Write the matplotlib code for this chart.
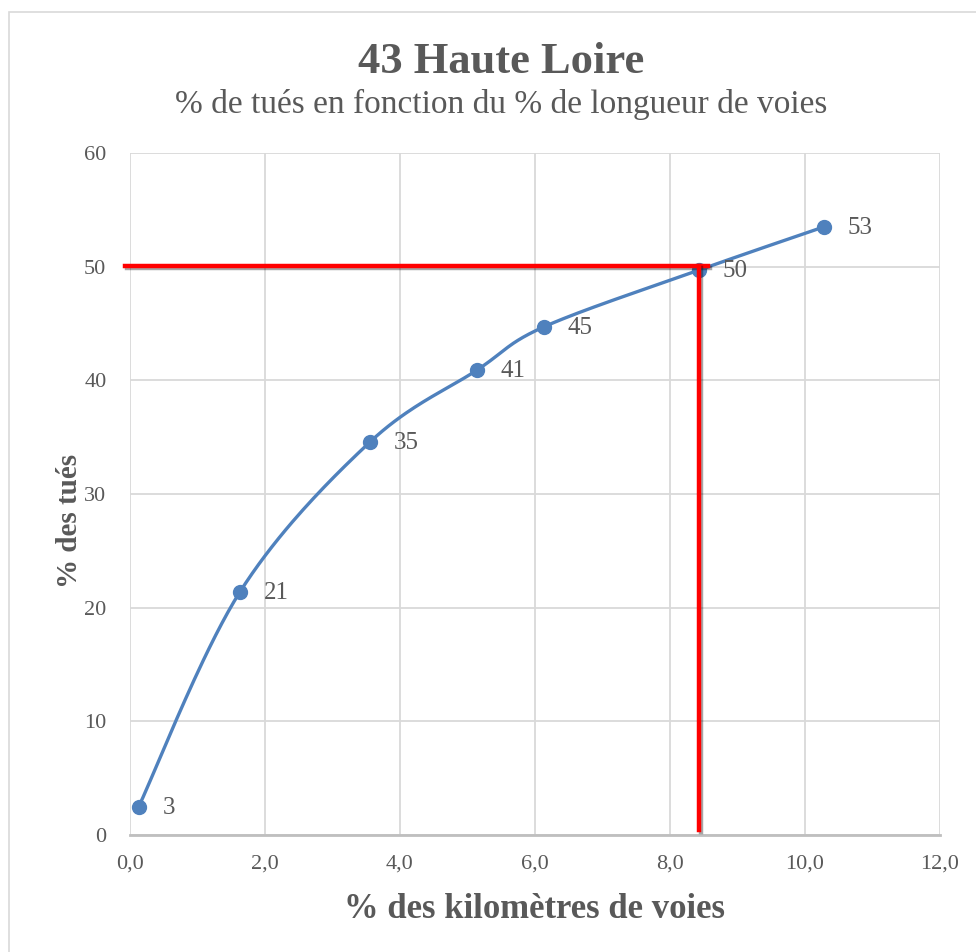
import numpy as np
import matplotlib
matplotlib.use("Agg")
import matplotlib.pyplot as plt
import matplotlib.patheffects as pe
from matplotlib.patches import Rectangle
from matplotlib.ticker import FuncFormatter, MultipleLocator

# données
pct_km = [0.13, 1.63, 3.56, 5.14, 6.13, 8.43, 10.28]
pct_tues = [2.5, 21.4, 34.6, 40.9, 44.7, 49.7, 53.5]
labels = ["3", "21", "35", "41", "45", "50", "53"]

# lignes rouges de repère
repere_x = 8.43
repere_y = 50.1

BLEU = "#4F81BD"
GRIS = "#595959"
plt.rcParams['font.family'] = ['Liberation Serif', 'DejaVu Serif']


def lissage(xs, ys, n=40):
    """Courbe lissée façon Excel (Bézier / Catmull-Rom)"""
    pts = np.column_stack([xs, ys])
    pts = np.vstack([pts[0], pts, pts[-1]])
    out = []
    t = np.linspace(0, 1, n)[:, None]
    for i in range(1, len(pts) - 2):
        p0, p3 = pts[i], pts[i + 1]
        p1 = p0 + (pts[i + 1] - pts[i - 1]) / 6
        p2 = p3 - (pts[i + 2] - pts[i]) / 6
        seg = ((1 - t) ** 3) * p0 + 3 * ((1 - t) ** 2) * t * p1 + 3 * (1 - t) * t ** 2 * p2 + t ** 3 * p3
        out.append(seg)
    c = np.vstack(out)
    return c[:, 0], c[:, 1]


fig = plt.figure(figsize=(9.76, 9.52), dpi=100)
ax = fig.add_axes([130 / 976, 1 - 835 / 952, 810 / 976, 682 / 952])

# cadre extérieur
fig.patches.append(Rectangle((9 / 976, -0.1), 1.2, 1 - 12 / 952 + 0.1, transform=fig.transFigure,
                             fill=False, edgecolor="#D9D9D9", lw=1.2))

ax.set_xlim(0, 12)
ax.set_ylim(0, 60)
ax.xaxis.set_major_locator(MultipleLocator(2))
ax.yaxis.set_major_locator(MultipleLocator(10))
ax.xaxis.set_major_formatter(FuncFormatter(lambda v, p: f"{v:.1f}".replace(".", ",")))
ax.grid(True, color="#D9D9D9", lw=1.3)
ax.set_axisbelow(True)
for s in ["top", "right", "left"]:
    ax.spines[s].set_visible(False)
ax.spines["bottom"].set_color("#BFBFBF")
ax.spines["bottom"].set_linewidth(2)
ax.tick_params(length=0, labelsize=16, labelcolor=GRIS)
ax.tick_params(axis="y", pad=17)
ax.tick_params(axis="x", pad=14)

cx, cy = lissage(pct_km, pct_tues)
ax.plot(cx, cy, color=BLEU, lw=2.4, zorder=3)
ax.plot(pct_km, pct_tues, "o", color=BLEU, ms=10, zorder=4)
for x, y, lab in zip(pct_km, pct_tues, labels):
    ax.annotate(lab, (x, y), xytext=(17, -1), textcoords="offset points",
                va="center", ha="left", fontsize=18, color=GRIS)

ombre = [pe.SimpleLineShadow(offset=(1.5, -1.5), alpha=0.35), pe.Normal()]
ax.plot([-0.07, 8.56], [repere_y, repere_y], color="red", lw=3.2, clip_on=False,
        zorder=5, path_effects=ombre)
ax.plot([repere_x, repere_x], [repere_y, 0.45], color="red", lw=3.2, clip_on=False,
        zorder=5, path_effects=ombre)

ax.set_xlabel("% des kilomètres de voies", fontsize=25, fontweight="bold", color=GRIS, labelpad=14)
ax.set_ylabel("% des tués", fontsize=21, fontweight="bold", color=GRIS)
ax.yaxis.set_label_coords(-0.058, 0.46)

fig.text(0.513, 1 - 62 / 952, "43 Haute Loire", ha="center", va="center",
         fontsize=32, fontweight="bold", color=GRIS)
fig.text(0.513, 1 - 104 / 952, "% de tués en fonction du % de longueur de voies", ha="center",
         va="center", fontsize=24, color=GRIS)

plt.savefig("out.png", dpi=100)
plt.close()
